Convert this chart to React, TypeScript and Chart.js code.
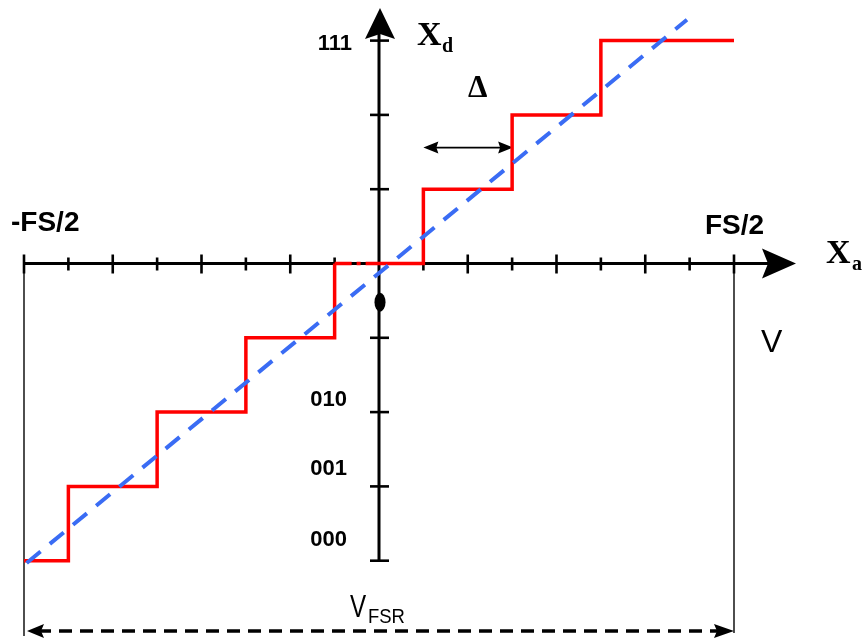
import { useEffect, useRef } from "react";
import { Chart, registerables } from "chart.js";
Chart.register(...registerables);

// Quantizer staircase (code levels vs analog input, in LSB units)
const stepX = [-4, -3.5, -2.5, -1.5, -0.5, 0, 0.5, 1.5, 2.5, 4];
const stepY = [-4, -3, -2, -1, 0, 0, 1, 2, 3, 3];
// Ideal (unquantized) transfer line
const idealX = [-3.97, 3.47];
const idealY = [-4.03, 3.28];
// Axis ticks
const xTicks = [-4, -3.5, -3, -2.5, -2, -1.5, -1, -0.5, 0.5, 1, 1.5, 2, 2.5, 3, 3.5, 4];
const yTicks = [-4, -3, -2, -1, 1, 2, 3];
// Code labels on the vertical axis
const codeLabels = ["111", "010", "001", "000"];
const codeLabelY = [2.95, -1.84, -2.76, -3.72];
// Full-scale range and LSB (Δ) span
const fullScale = [-4, 4];
const deltaSpan = [0.5, 1.5];
const deltaLevel = 1.56;
const zeroMarkY = -0.52;

const PX_X = 88.75;
const X0 = 379;
const PX_Y = 74.3;
const Y0 = 263.5;

function arrowHead(ctx: CanvasRenderingContext2D, tx: number, ty: number, dir: number[], len: number, half: number, notch: number) {
  const [dx, dy] = dir;
  const px = -dy, py = dx;
  const bx = tx - dx * len, by = ty - dy * len;
  ctx.beginPath();
  ctx.moveTo(tx, ty);
  ctx.lineTo(bx + px * half, by + py * half);
  ctx.lineTo(tx - dx * (len - notch), ty - dy * (len - notch));
  ctx.lineTo(bx - px * half, by - py * half);
  ctx.closePath();
  ctx.fill();
}

const diagramPlugin = {
  id: "diagram",
  beforeDatasetsDraw(chart: any) {
    const ctx: CanvasRenderingContext2D = chart.ctx;
    const xs = chart.scales.x, ys = chart.scales.y;
    const X = (v: number) => xs.getPixelForValue(v);
    const Y = (v: number) => ys.getPixelForValue(v);
    const ox = X(0), oy = Y(0);
    ctx.save();
    ctx.strokeStyle = "#000";
    ctx.fillStyle = "#000";
    // thin full-scale verticals
    ctx.lineWidth = 1.6;
    ctx.strokeStyle = "#222";
    ctx.beginPath();
    ctx.moveTo(X(fullScale[0]), oy);
    ctx.lineTo(X(fullScale[0]), 636);
    ctx.moveTo(X(fullScale[1]), oy);
    ctx.lineTo(X(fullScale[1]), 633);
    ctx.stroke();
    ctx.strokeStyle = "#000";
    // x axis
    ctx.lineWidth = 3;
    ctx.beginPath();
    ctx.moveTo(X(fullScale[0]), oy);
    ctx.lineTo(785, oy);
    ctx.stroke();
    arrowHead(ctx, 796, oy, [1, 0], 34, 15, 6);
    // y axis
    ctx.beginPath();
    ctx.moveTo(ox, Y(-4) + 1);
    ctx.lineTo(ox, 20);
    ctx.stroke();
    arrowHead(ctx, ox + 1, 8, [0, -1], 31, 15, 5);
    // x ticks
    ctx.lineWidth = 2.6;
    xTicks.forEach((t) => {
      const long = Number.isInteger(t);
      const a = long ? 9 : 6;
      const b = long ? 10 : 7;
      ctx.beginPath();
      ctx.moveTo(X(t), oy - a);
      ctx.lineTo(X(t), oy + b);
      ctx.stroke();
    });
    // y ticks
    yTicks.forEach((t) => {
      ctx.beginPath();
      ctx.moveTo(ox - 9, Y(t));
      ctx.lineTo(ox + 10, Y(t));
      ctx.stroke();
    });
    // zero mark
    ctx.beginPath();
    ctx.ellipse(ox + 1, Y(zeroMarkY), 5.5, 9.5, 0, 0, Math.PI * 2);
    ctx.fill();
    // full-scale dashed double arrow
    const by = 631;
    ctx.lineWidth = 3.5;
    ctx.setLineDash([13, 8]);
    ctx.beginPath();
    ctx.moveTo(X(fullScale[0]) + 14, by);
    ctx.lineTo(X(fullScale[1]) - 14, by);
    ctx.stroke();
    ctx.setLineDash([]);
    arrowHead(ctx, X(fullScale[0]) + 3, by, [-1, 0], 17, 7, 3);
    arrowHead(ctx, X(fullScale[1]), by, [1, 0], 20, 7, 3);
    // delta double arrow
    const dy = Y(deltaLevel);
    ctx.lineWidth = 1.8;
    ctx.beginPath();
    ctx.moveTo(X(deltaSpan[0]) + 8, dy);
    ctx.lineTo(X(deltaSpan[1]) - 8, dy);
    ctx.stroke();
    arrowHead(ctx, X(deltaSpan[0]), dy, [-1, 0], 15, 6, 2);
    arrowHead(ctx, X(deltaSpan[1]) + 1, dy, [1, 0], 15, 6, 2);
    ctx.restore();
  },
  afterDatasetsDraw(chart: any) {
    const ctx: CanvasRenderingContext2D = chart.ctx;
    const xs = chart.scales.x, ys = chart.scales.y;
    const X = (v: number) => xs.getPixelForValue(v);
    const Y = (v: number) => ys.getPixelForValue(v);
    const ox = X(0), oy = Y(0);
    ctx.save();
    ctx.fillStyle = "#000";
    ctx.textBaseline = "alphabetic";
    // code labels
    ctx.font = "bold 22px 'Liberation Sans', Arial, sans-serif";
    ctx.textAlign = "right";
    codeLabels.forEach((lab, i) => {
      const right = i === 0 ? ox - 27 : ox - 32;
      ctx.textBaseline = "middle";
      ctx.fillText(lab, right, Y(codeLabelY[i]));
    });
    ctx.textBaseline = "alphabetic";
    // FS labels
    ctx.textAlign = "left";
    ctx.font = "bold 28px 'Liberation Sans', Arial, sans-serif";
    ctx.fillText("-FS/2", X(fullScale[0]) - 13, oy - 33);
    ctx.fillText("FS/2", X(fullScale[1]) - 29, oy - 30);
    // V
    ctx.font = "32px 'Liberation Sans', Arial, sans-serif";
    ctx.fillText("V", 761, 352);
    // V_FSR
    ctx.save();
    ctx.translate(350, 617);
    ctx.scale(0.78, 1);
    ctx.font = "31px 'Liberation Sans', Arial, sans-serif";
    ctx.fillText("V", 0, 0);
    ctx.restore();
    ctx.save();
    ctx.translate(368, 623);
    ctx.scale(0.88, 1);
    ctx.font = "21px 'Liberation Sans', Arial, sans-serif";
    ctx.fillText("FSR", 0, 0);
    ctx.restore();
    // Xd
    ctx.font = "bold 34px 'Liberation Serif', 'Times New Roman', serif";
    ctx.fillText("X", 417, 45);
    ctx.font = "bold 20px 'Liberation Serif', 'Times New Roman', serif";
    ctx.fillText("d", 442, 52);
    // Xa
    ctx.font = "bold 34px 'Liberation Serif', 'Times New Roman', serif";
    ctx.fillText("X", 826, oy - 1);
    ctx.font = "bold 20px 'Liberation Serif', 'Times New Roman', serif";
    ctx.fillText("a", 852, oy + 6);
    // Delta
    ctx.textAlign = "center";
    ctx.font = "bold 31px 'Liberation Serif', 'Times New Roman', serif";
    ctx.fillText("Δ", (X(deltaSpan[0]) + X(deltaSpan[1])) / 2 + 10, 97);
    ctx.restore();
  },
};

export default function App() {
  const ref = useRef<HTMLCanvasElement | null>(null);
  useEffect(() => {
    if (!ref.current) return;
    const chart = new Chart(ref.current, {
      type: "line",
      data: {
        datasets: [
          {
            label: "ideal",
            data: idealX.map((x, i) => ({ x, y: idealY[i] })),
            borderColor: "#3a6cf4",
            borderWidth: 4,
            borderDash: [18, 12],
            pointRadius: 0,
            fill: false,
          },
          {
            label: "quantized",
            data: stepX.map((x, i) => ({ x, y: stepY[i] })),
            borderColor: "#ff0000",
            borderWidth: 3.5,
            stepped: "before",
            pointRadius: 0,
            fill: false,
            borderCapStyle: "butt",
            segment: {
              borderDash: (c: any) => (c.p0.parsed.x === -0.5 && c.p1.parsed.x === 0 ? [17, 5, 4, 5] : undefined),
            },
          },
        ],
      },
      options: {
        responsive: false,
        animation: false,
        layout: { padding: 0 },
        plugins: { legend: { display: false }, tooltip: { enabled: false } },
        scales: {
          x: { type: "linear", display: false, min: -X0 / PX_X, max: (864 - X0) / PX_X },
          y: { type: "linear", display: false, min: (Y0 - 639) / PX_Y, max: Y0 / PX_Y },
        },
      },
      plugins: [diagramPlugin],
    } as any);
    return () => chart.destroy();
  }, []);
  return (
    <div style={{ position: "fixed", left: 0, top: 0, width: 864, height: 639, background: "#fff" }}>
      <canvas ref={ref} width={864} height={639} style={{ display: "block" }} />
    </div>
  );
}
